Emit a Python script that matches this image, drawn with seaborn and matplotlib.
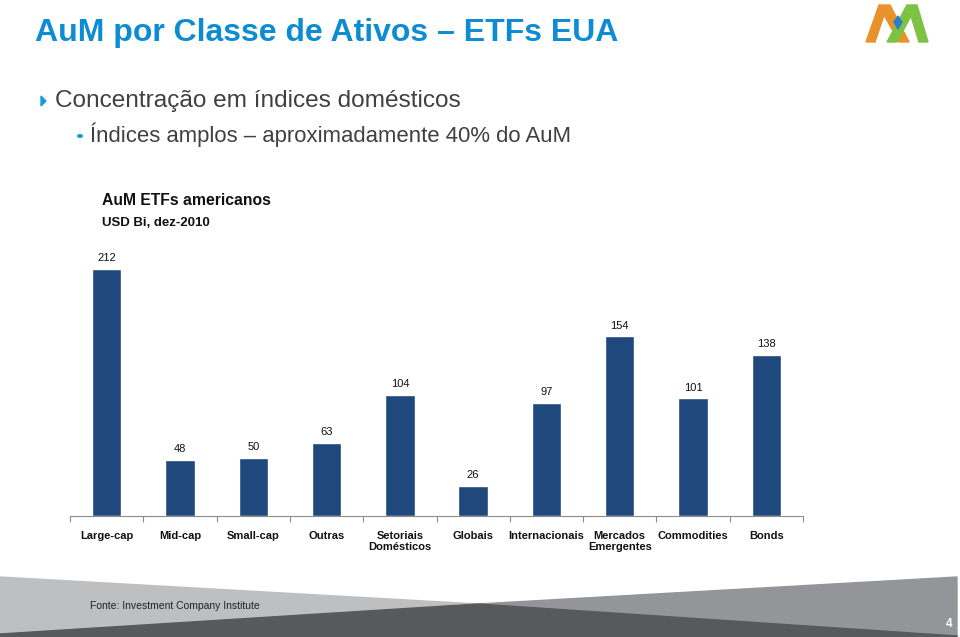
import matplotlib
matplotlib.use("Agg")
import matplotlib.pyplot as plt
import seaborn as sns
from matplotlib.patches import Polygon, Circle
from matplotlib.ticker import FixedLocator

# dados do grafico (USD Bi, dez-2010)
categorias = ["Large-cap", "Mid-cap", "Small-cap", "Outras", "Setoriais\nDomésticos",
              "Globais", "Internacionais", "Mercados\nEmergentes", "Commodities", "Bonds"]
valores = [212, 48, 50, 63, 104, 26, 97, 154, 101, 138]

titulo = "AuM por Classe de Ativos – ETFs EUA"
bullet1 = "Concentração em índices domésticos"
bullet2 = "Índices amplos – aproximadamente 40% do AuM"
subtitulo1 = "AuM ETFs americanos"
subtitulo2 = "USD Bi, dez-2010"
fonte = "Fonte: Investment Company Institute"
pagina = "4"

W, H = 960, 637
sns.set_theme(style="white")
plt.rcParams["font.family"] = ["Liberation Sans", "DejaVu Sans"]

fig = plt.figure(figsize=(W / 100, H / 100), dpi=100)


def px(x, y):
    # pixel coords (y down) -> figure fraction
    return (x / W, 1 - y / H)


# area do grafico
ax = fig.add_axes([70 / W, 1 - 516 / H, (803 - 70) / W, 266 / H])
sns.barplot(x=categorias, y=valores, color="#1F497D", saturation=1, width=0.4, ax=ax)
ax.set_xlim(-0.5, len(categorias) - 0.5)
ax.set_ylim(0, 228)
ax.bar_label(ax.containers[0], padding=4, fontsize=8, color="#111111")

for s in ["top", "left", "right"]:
    ax.spines[s].set_visible(False)
ax.spines["bottom"].set_color("#8C8C8C")
ax.spines["bottom"].set_linewidth(0.8)
ax.set_yticks([])
ax.set_xlabel("")
ax.set_ylabel("")
ax.tick_params(axis="x", which="major", length=0, pad=11, labelsize=8)
ax.xaxis.set_minor_locator(FixedLocator([i - 0.5 for i in range(len(categorias) + 1)]))
ax.tick_params(axis="x", which="minor", length=4, width=0.8, color="#8C8C8C", bottom=True)
for t in ax.get_xticklabels():
    t.set_fontweight("bold")
    t.set_color("#111111")
    t.set_linespacing(1.15)

# titulo e textos
fig.text(*px(35, 33), titulo, fontsize=23, fontweight="bold", color="#0C8CD2", va="center")
fig.patches.append(Polygon([px(41, 96), px(41, 106), px(46, 101)], closed=True,
                           transform=fig.transFigure, color="#1A9AD6"))
fig.text(*px(55, 101), bullet1, fontsize=17.6, color="#404040", va="center")
fig.patches.append(Circle(px(80, 136), 2.2 / W, transform=fig.transFigure, color="#1A9AD6"))
fig.text(*px(90, 135), bullet2, fontsize=15.9, color="#404040", va="center")
fig.text(*px(102, 200), subtitulo1, fontsize=11.3, fontweight="bold", color="#111111", va="center")
fig.text(*px(102, 223), subtitulo2, fontsize=9.5, fontweight="bold", color="#111111", va="center")

# rodape
cx, cy = 478, 604
fig.patches.append(Polygon([px(0, 577), px(cx, cy), px(0, 634)], closed=True,
                           transform=fig.transFigure, color="#BDBFC1", zorder=0))
fig.patches.append(Polygon([px(957, 577), px(cx, cy), px(957, 636)], closed=True,
                           transform=fig.transFigure, color="#939598", zorder=0))
fig.patches.append(Polygon([px(0, 637), px(0, 634), px(cx, cy), px(957, 636), px(957, 637)],
                           closed=True, transform=fig.transFigure, color="#58595B", zorder=0))
fig.text(*px(90, 606), fonte, fontsize=7.5, color="#222222", va="center")
fig.text(*px(952, 624), pagina, fontsize=8.5, fontweight="bold", color="white", va="center",
         ha="right")

# logo
fig.patches.append(Polygon([px(866, 42), px(879, 5), px(890, 5), px(909, 42), px(899, 42),
                            px(884, 15), px(875, 42)], closed=True,
                           transform=fig.transFigure, color="#E8922C"))
fig.patches.append(Polygon([px(887, 42), px(907, 5), px(917, 5), px(928, 42), px(919, 42),
                            px(911, 16), px(897, 42)], closed=True,
                           transform=fig.transFigure, color="#7DC242"))
fig.patches.append(Polygon([px(898, 16), px(902, 22), px(898, 29), px(894, 22)], closed=True,
                           transform=fig.transFigure, color="#2B7CC9"))

fig.savefig("out.png", dpi=100)
